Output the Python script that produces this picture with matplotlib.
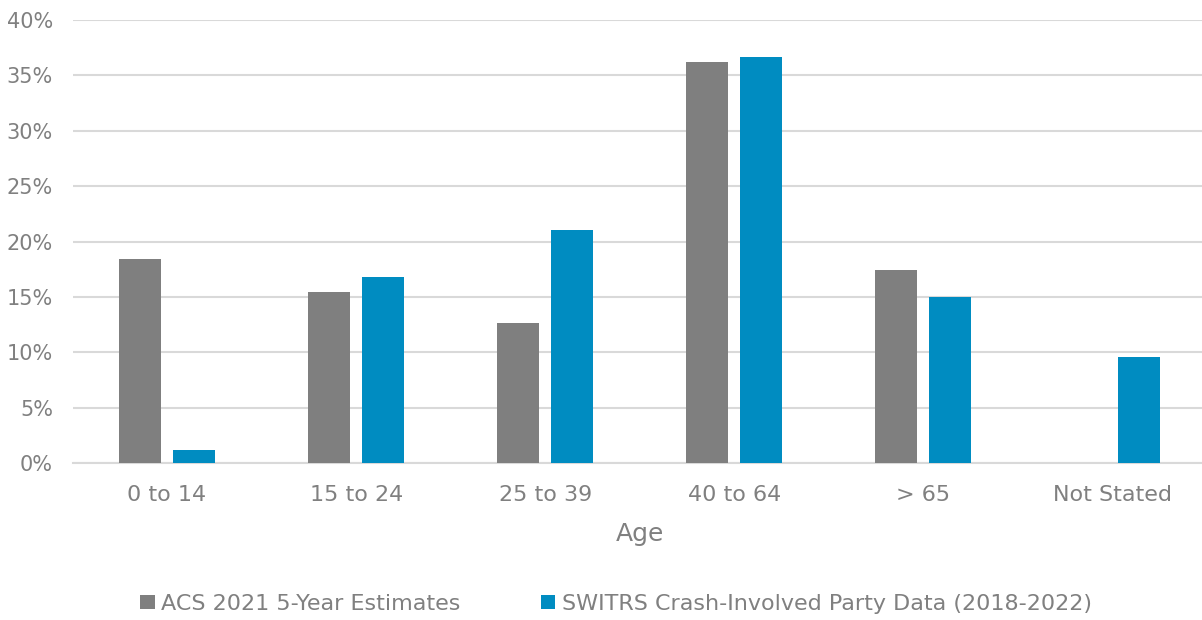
import numpy as np
import matplotlib.pyplot as plt
from matplotlib.ticker import PercentFormatter

age_groups = ['0 to 14', '15 to 24', '25 to 39', '40 to 64', '> 65', 'Not Stated']
acs_share = [18.4, 15.4, 12.6, 36.2, 17.4, 0.0]
switrs_share = [1.2, 16.8, 21.0, 36.7, 15.0, 9.6]

grey = '#7f7f7f'
blue = '#008cc1'
txt = '#808080'

plt.rcParams['font.family'] = ['DejaVu Sans']

fig = plt.figure(figsize=(12.02, 6.2), dpi=100)
ax = fig.add_axes([72.5 / 1202, 0.2532, 1134.5 / 1202, 0.7145])

x = np.arange(len(age_groups))
w = 0.222
off = (w + 0.063) / 2
ax.bar(x - off, acs_share, w, color=grey, label='ACS 2021 5-Year Estimates', zorder=3)
ax.bar(x + off, switrs_share, w, color=blue,
       label='SWITRS Crash-Involved Party Data (2018-2022)', zorder=3)

ax.set_xlim(-0.5, len(age_groups) - 0.5)
ax.set_ylim(0, 40)
ax.set_yticks(np.arange(0, 41, 5))
ax.yaxis.set_major_formatter(PercentFormatter(decimals=0))
ax.set_xticks(x)
ax.set_xticklabels(age_groups)
ax.grid(axis='y', color='#d9d9d9', linewidth=1.5, zorder=0)
for s in ['top', 'right', 'left']:
    ax.spines[s].set_visible(False)
ax.spines['bottom'].set_color('#d9d9d9')
ax.spines['bottom'].set_linewidth(1.5)
ax.tick_params(axis='both', length=0, labelcolor=txt)
ax.tick_params(axis='y', pad=14, labelsize=15)
ax.tick_params(axis='x', pad=16, labelsize=16)
ax.set_xlabel('Age', fontsize=18, color=txt, labelpad=12)

leg = ax.legend(loc='upper center', bbox_to_anchor=(0.479, -0.25), ncol=2,
                frameon=False, fontsize=16, handlelength=0.65, handleheight=0.65,
                handletextpad=0.3, columnspacing=3.6)
for t in leg.get_texts():
    t.set_color(txt)

fig.savefig('out.png', dpi=100)
